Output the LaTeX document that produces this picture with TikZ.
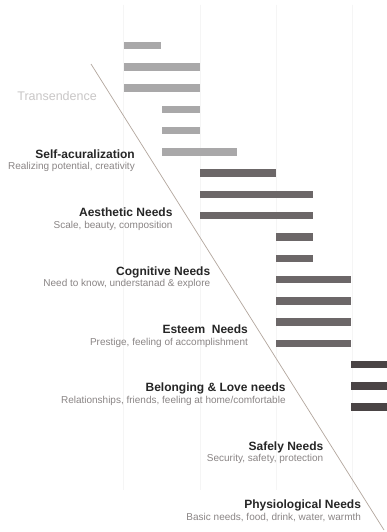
\documentclass[tikz,border=0pt]{standalone}
\usepackage{fontspec}
\setmainfont{Liberation Sans}
\usepackage{xcolor}
\definecolor{barlight}{HTML}{A9A8A9}
\definecolor{barmid}{HTML}{6C6768}
\definecolor{bardark}{HTML}{4A4445}
\definecolor{gridgray}{HTML}{F5F5F5}
\definecolor{slope}{HTML}{B3A79E}
\definecolor{titleink}{HTML}{262626}
\definecolor{subink}{HTML}{8A8585}
\definecolor{faint}{HTML}{C9C7C7}
\tikzset{
  leveltitle/.style={anchor=base east, inner sep=0pt, titleink, font=\bfseries\fontsize{12}{14}\selectfont},
  levelsub/.style={anchor=base east, inner sep=0pt, subink, font=\fontsize{10}{12}\selectfont},
}

\begin{document}
\begin{tikzpicture}[x=1pt, y=-1pt]
    \useasboundingbox (0,0) rectangle (387,532);
    \fill[white] (0,0) rectangle (387,532);

    % Grid lines
    \foreach \x in {123.5, 200, 276, 352} {
        \draw[gridgray, line width=0.8pt] (\x,5) -- (\x,490);
    }

    % Bars
    \foreach \xa/\xb/\r/\c in {124/161/0/barlight, 124/200/1/barlight, 124/200/2/barlight,
        162/200/3/barlight, 162/200/4/barlight, 162/237/5/barlight,
        200/276/6/barmid, 200/313/7/barmid, 200/313/8/barmid,
        276/313/9/barmid, 276/313/10/barmid, 276/351/11/barmid,
        276/351/12/barmid, 276/351/13/barmid, 276/351/14/barmid,
        351/387/15/bardark, 351/387/16/bardark, 351/387/17/bardark} {
        \fill[\c] (\xa,{41.8+21.27*\r}) rectangle (\xb,{49.3+21.27*\r});
    }

    % Slope line
    \draw[slope, line width=0.7pt] (91,64) -- (384,530);

    % Labels
    \node[anchor=base east, inner sep=0pt, faint, font=\fontsize{12.5}{14}\selectfont] (trans) at (97,100.5) {Transendence};
    \foreach \i/\ttl/\sub in {0/Self-acuralization/{Realizing potential, creativity},
        1/Aesthetic Needs/{Scale, beauty, composition},
        2/Cognitive Needs/{Need to know, understanad \& explore},
        3/Esteem~ Needs/{Prestige, feeling of accomplishment},
        4/Belonging \& Love needs/{Relationships, friends, feeling at home/comfortable},
        5/Safely Needs/{Security, safety, protection},
        6/Physiological Needs/{Basic needs, food, drink, water, warmth}} {
        \node[leveltitle] (lvl\i) at ({135+37.7*\i},{158.3+58.4*\i}) {\ttl};
        \node[levelsub] (lvl\i-sub) at ({135+37.7*\i},{169.8+58.4*\i}) {\sub};
    }
\end{tikzpicture}
\end{document}
